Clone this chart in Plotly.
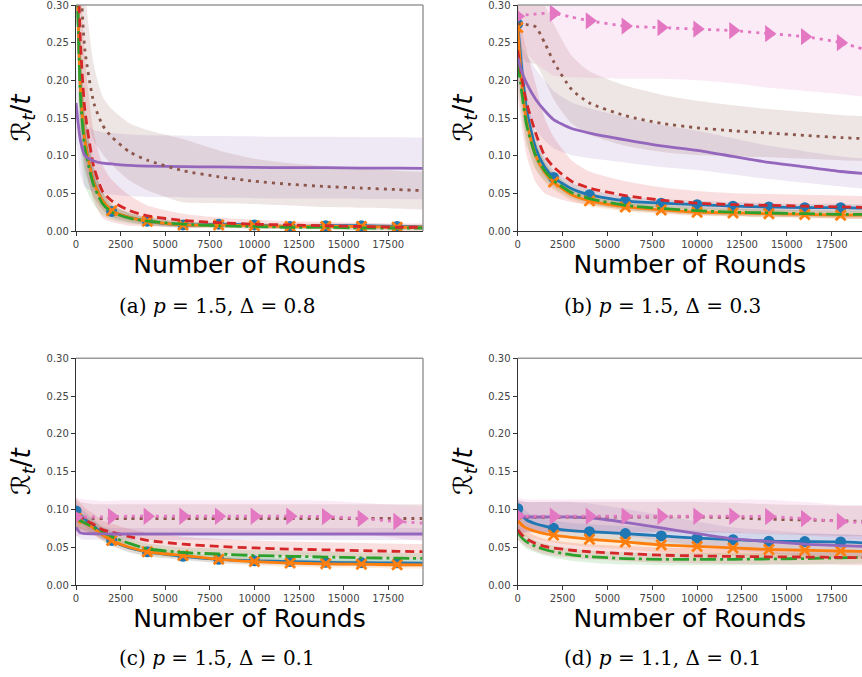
import plotly.graph_objects as go

# ---------------- data ----------------
ROUNDS = [0, 250, 500, 1000, 1500, 2000, 3000, 4000, 6000, 8000, 10000, 12000, 14000, 16000, 18000, 20000]
MARK_ROUNDS = [0, 2000, 4000, 6000, 8000, 10000, 12000, 14000, 16000, 18000]
X_TICKS = [0, 2500, 5000, 7500, 10000, 12500, 15000, 17500]
Y_TICKS = [0.0, 0.05, 0.10, 0.15, 0.20, 0.25, 0.30]
CAPTIONS = ["(a) <i>p</i> = 1.5, Δ = 0.8", "(b) <i>p</i> = 1.5, Δ = 0.3",
            "(c) <i>p</i> = 1.5, Δ = 0.1", "(d) <i>p</i> = 1.1, Δ = 0.1"]
X_LABEL = "Number of Rounds"
Y_LABEL = "ℛ<sub><i>t</i></sub>/<i>t</i>"

# panel (a)  p=1.5, Δ=0.8
A_BLUE = [0.40, 0.19, 0.12, 0.065, 0.040, 0.026, 0.018, 0.013, 0.008, 0.009, 0.008, 0.006, 0.007, 0.007, 0.006, 0.005]
A_ORANGE = [0.40, 0.19, 0.12, 0.064, 0.040, 0.027, 0.018, 0.013, 0.008, 0.008, 0.007, 0.006, 0.006, 0.006, 0.005, 0.005]
A_GREEN = [0.40, 0.18, 0.11, 0.060, 0.036, 0.025, 0.017, 0.013, 0.009, 0.007, 0.006, 0.005, 0.005, 0.004, 0.004, 0.004]
A_RED = [0.45, 0.25, 0.16, 0.085, 0.052, 0.040, 0.027, 0.020, 0.014, 0.011, 0.009, 0.008, 0.007, 0.006, 0.005, 0.005]
A_PURPLE = [0.17, 0.12, 0.10, 0.093, 0.090, 0.089, 0.087, 0.086, 0.0855, 0.085, 0.0845, 0.084, 0.084, 0.0835, 0.0835, 0.083]
A_BROWN = [0.55, 0.34, 0.24, 0.17, 0.14, 0.125, 0.105, 0.094, 0.080, 0.072, 0.066, 0.062, 0.059, 0.057, 0.055, 0.053]
A_BLUE_SD = [0.08, 0.06, 0.04, 0.02, 0.012, 0.008, 0.006, 0.005, 0.004, 0.003, 0.003, 0.003, 0.003, 0.003, 0.003, 0.003]
A_ORANGE_SD = [0.08, 0.06, 0.04, 0.02, 0.012, 0.008, 0.006, 0.005, 0.004, 0.003, 0.003, 0.003, 0.003, 0.003, 0.003, 0.003]
A_GREEN_SD = [0.10, 0.07, 0.05, 0.025, 0.015, 0.010, 0.007, 0.005, 0.004, 0.003, 0.003, 0.003, 0.003, 0.003, 0.003, 0.003]
A_RED_SD = [0.12, 0.10, 0.07, 0.045, 0.035, 0.028, 0.020, 0.014, 0.009, 0.007, 0.006, 0.005, 0.005, 0.005, 0.005, 0.005]
A_PURPLE_SD = [0.05, 0.045, 0.042, 0.041, 0.041, 0.041, 0.041, 0.041, 0.041, 0.041, 0.041, 0.041, 0.041, 0.041, 0.041, 0.041]
A_BROWN_SD = [0.15, 0.12, 0.08, 0.05, 0.038, 0.037, 0.038, 0.040, 0.042, 0.035, 0.030, 0.028, 0.027, 0.026, 0.025, 0.025]

# panel (b)  p=1.5, Δ=0.3
B_BLUE = [0.275, 0.21, 0.16, 0.11, 0.085, 0.071, 0.056, 0.048, 0.040, 0.037, 0.035, 0.033, 0.032, 0.031, 0.031, 0.030]
B_ORANGE = [0.27, 0.19, 0.145, 0.10, 0.078, 0.065, 0.048, 0.040, 0.032, 0.028, 0.025, 0.024, 0.023, 0.022, 0.021, 0.021]
B_GREEN = [0.225, 0.18, 0.14, 0.10, 0.080, 0.067, 0.051, 0.043, 0.034, 0.030, 0.027, 0.025, 0.024, 0.023, 0.022, 0.022]
B_RED = [0.24, 0.20, 0.17, 0.13, 0.10, 0.085, 0.066, 0.057, 0.047, 0.041, 0.037, 0.035, 0.034, 0.033, 0.032, 0.031]
B_PURPLE = [0.23, 0.21, 0.196, 0.175, 0.16, 0.148, 0.136, 0.130, 0.121, 0.113, 0.107, 0.099, 0.091, 0.085, 0.079, 0.075]
B_BROWN = [0.275, 0.275, 0.274, 0.271, 0.25, 0.225, 0.188, 0.170, 0.153, 0.143, 0.137, 0.133, 0.130, 0.127, 0.124, 0.122]
B_PINK = [0.285, 0.286, 0.287, 0.288, 0.289, 0.289, 0.284, 0.279, 0.272, 0.270, 0.268, 0.266, 0.262, 0.258, 0.250, 0.236]
B_BLUE_SD = [0.03, 0.03, 0.025, 0.018, 0.013, 0.01, 0.008, 0.007, 0.006, 0.005, 0.005, 0.005, 0.005, 0.005, 0.005, 0.005]
B_ORANGE_SD = [0.03, 0.03, 0.025, 0.018, 0.013, 0.01, 0.008, 0.007, 0.006, 0.005, 0.005, 0.005, 0.005, 0.005, 0.005, 0.005]
B_GREEN_SD = [0.03, 0.03, 0.025, 0.018, 0.013, 0.01, 0.008, 0.007, 0.006, 0.005, 0.005, 0.005, 0.005, 0.005, 0.005, 0.005]
B_RED_SD = [0.06, 0.065, 0.07, 0.065, 0.05, 0.04, 0.028, 0.022, 0.019, 0.017, 0.016, 0.015, 0.015, 0.015, 0.015, 0.015]
B_PURPLE_SD = [0.03, 0.035, 0.038, 0.04, 0.04, 0.038, 0.035, 0.033, 0.030, 0.028, 0.026, 0.024, 0.022, 0.021, 0.020, 0.020]
B_BROWN_SD = [0.04, 0.045, 0.05, 0.05, 0.05, 0.05, 0.045, 0.042, 0.040, 0.038, 0.036, 0.034, 0.032, 0.031, 0.030, 0.030]
B_PINK_SD = [0.035, 0.04, 0.05, 0.065, 0.075, 0.083, 0.08, 0.076, 0.07, 0.068, 0.068, 0.07, 0.072, 0.072, 0.068, 0.06]

# panel (c)  p=1.5, Δ=0.1
C_BLUE = [0.098, 0.092, 0.087, 0.078, 0.067, 0.059, 0.049, 0.044, 0.038, 0.034, 0.032, 0.031, 0.030, 0.0295, 0.0293, 0.029]
C_ORANGE = [0.088, 0.085, 0.082, 0.075, 0.066, 0.059, 0.050, 0.044, 0.039, 0.034, 0.031, 0.029, 0.028, 0.0275, 0.0268, 0.0265]
C_GREEN = [0.088, 0.085, 0.082, 0.076, 0.070, 0.064, 0.055, 0.048, 0.043, 0.041, 0.039, 0.038, 0.037, 0.036, 0.0355, 0.035]
C_RED = [0.095, 0.090, 0.086, 0.080, 0.073, 0.070, 0.064, 0.059, 0.054, 0.051, 0.049, 0.0475, 0.0465, 0.0455, 0.0445, 0.044]
C_PURPLE = [0.076, 0.069, 0.068, 0.0678, 0.0676, 0.0675, 0.0675, 0.0675, 0.0675, 0.0675, 0.0675, 0.0675, 0.0675, 0.0675, 0.0675, 0.0675]
C_BROWN = [0.092, 0.090, 0.089, 0.088, 0.088, 0.088, 0.088, 0.088, 0.088, 0.088, 0.088, 0.088, 0.088, 0.088, 0.088, 0.088]
C_PINK = [0.090, 0.090, 0.090, 0.090, 0.090, 0.0905, 0.091, 0.091, 0.091, 0.091, 0.091, 0.091, 0.0905, 0.088, 0.084, 0.081]
C_BLUE_SD = [0.012, 0.011, 0.01, 0.009, 0.008, 0.007, 0.006, 0.006, 0.005, 0.005, 0.005, 0.005, 0.005, 0.005, 0.005, 0.005]
C_ORANGE_SD = [0.012, 0.011, 0.01, 0.009, 0.008, 0.007, 0.006, 0.006, 0.005, 0.005, 0.005, 0.005, 0.005, 0.005, 0.005, 0.005]
C_GREEN_SD = [0.012, 0.011, 0.01, 0.009, 0.008, 0.008, 0.007, 0.007, 0.007, 0.007, 0.007, 0.007, 0.007, 0.007, 0.007, 0.007]
C_RED_SD = [0.02, 0.018, 0.016, 0.014, 0.012, 0.011, 0.01, 0.01, 0.01, 0.01, 0.01, 0.01, 0.01, 0.01, 0.01, 0.01]
C_PURPLE_SD = [0.01, 0.008, 0.008, 0.008, 0.008, 0.008, 0.008, 0.008, 0.008, 0.008, 0.008, 0.008, 0.008, 0.008, 0.008, 0.008]
C_BROWN_SD = [0.022, 0.02, 0.02, 0.019, 0.019, 0.019, 0.019, 0.019, 0.019, 0.019, 0.019, 0.019, 0.019, 0.019, 0.019, 0.019]
C_PINK_SD = [0.026, 0.024, 0.023, 0.022, 0.021, 0.021, 0.021, 0.021, 0.021, 0.021, 0.021, 0.021, 0.021, 0.021, 0.022, 0.024]

# panel (d)  p=1.1, Δ=0.1
D_BLUE = [0.101, 0.092, 0.086, 0.081, 0.078, 0.075, 0.072, 0.0705, 0.068, 0.065, 0.062, 0.060, 0.058, 0.0575, 0.057, 0.055]
D_ORANGE = [0.085, 0.079, 0.075, 0.071, 0.068, 0.066, 0.063, 0.0605, 0.057, 0.053, 0.051, 0.049, 0.047, 0.046, 0.045, 0.044]
D_GREEN = [0.070, 0.062, 0.057, 0.051, 0.047, 0.044, 0.040, 0.0375, 0.035, 0.034, 0.034, 0.034, 0.0345, 0.035, 0.036, 0.037]
D_RED = [0.073, 0.066, 0.061, 0.055, 0.051, 0.049, 0.046, 0.044, 0.0415, 0.0395, 0.0385, 0.0378, 0.0373, 0.037, 0.0365, 0.036]
D_PURPLE = [0.091, 0.090, 0.090, 0.090, 0.090, 0.090, 0.090, 0.089, 0.083, 0.0755, 0.068, 0.061, 0.0575, 0.054, 0.052, 0.0505]
D_BROWN = [0.090, 0.090, 0.090, 0.090, 0.090, 0.090, 0.090, 0.090, 0.090, 0.090, 0.090, 0.089, 0.087, 0.086, 0.085, 0.084]
D_PINK = [0.092, 0.091, 0.091, 0.091, 0.091, 0.091, 0.091, 0.091, 0.091, 0.091, 0.091, 0.091, 0.0905, 0.088, 0.084, 0.082]
D_BLUE_SD = [0.014, 0.012, 0.011, 0.01, 0.01, 0.01, 0.01, 0.01, 0.01, 0.01, 0.01, 0.01, 0.01, 0.01, 0.01, 0.01]
D_ORANGE_SD = [0.014, 0.012, 0.011, 0.01, 0.01, 0.01, 0.01, 0.01, 0.01, 0.01, 0.01, 0.01, 0.01, 0.01, 0.01, 0.01]
D_GREEN_SD = [0.01, 0.009, 0.009, 0.008, 0.008, 0.008, 0.008, 0.008, 0.008, 0.008, 0.008, 0.008, 0.008, 0.008, 0.008, 0.008]
D_RED_SD = [0.012, 0.011, 0.01, 0.01, 0.01, 0.01, 0.01, 0.01, 0.01, 0.01, 0.01, 0.01, 0.01, 0.01, 0.01, 0.01]
D_PURPLE_SD = [0.02, 0.02, 0.02, 0.02, 0.02, 0.02, 0.02, 0.019, 0.018, 0.017, 0.016, 0.015, 0.015, 0.015, 0.015, 0.015]
D_BROWN_SD = [0.022, 0.021, 0.02, 0.02, 0.02, 0.02, 0.02, 0.02, 0.02, 0.02, 0.02, 0.02, 0.02, 0.02, 0.02, 0.02]
D_PINK_SD = [0.024, 0.023, 0.022, 0.022, 0.022, 0.022, 0.022, 0.022, 0.022, 0.022, 0.022, 0.022, 0.022, 0.022, 0.022, 0.024]

# ---------------- styles ----------------
STYLE = {
    "blue":   dict(color="#1f77b4", rgb="31,119,180", dash="solid", marker="circle"),
    "orange": dict(color="#ff7f0e", rgb="255,127,14", dash="solid", marker="x-thin"),
    "green":  dict(color="#2ca02c", rgb="44,160,44", dash="16px,4px,3px,4px", marker=None),
    "red":    dict(color="#d62728", rgb="214,39,40", dash="9px,5px", marker=None),
    "purple": dict(color="#9467bd", rgb="148,103,189", dash="solid", marker=None),
    "brown":  dict(color="#8c564b", rgb="140,86,75", dash="3px,5px", marker=None),
    "pink":   dict(color="#e377c2", rgb="227,119,194", dash="3px,5px", marker="triangle-right"),
}
ORDER = ["blue", "orange", "green", "red", "purple", "brown", "pink"]

PANELS = [
    {"blue": (A_BLUE, A_BLUE_SD), "orange": (A_ORANGE, A_ORANGE_SD), "green": (A_GREEN, A_GREEN_SD),
     "red": (A_RED, A_RED_SD), "purple": (A_PURPLE, A_PURPLE_SD), "brown": (A_BROWN, A_BROWN_SD)},
    {"blue": (B_BLUE, B_BLUE_SD), "orange": (B_ORANGE, B_ORANGE_SD), "green": (B_GREEN, B_GREEN_SD),
     "red": (B_RED, B_RED_SD), "purple": (B_PURPLE, B_PURPLE_SD), "brown": (B_BROWN, B_BROWN_SD),
     "pink": (B_PINK, B_PINK_SD)},
    {"blue": (C_BLUE, C_BLUE_SD), "orange": (C_ORANGE, C_ORANGE_SD), "green": (C_GREEN, C_GREEN_SD),
     "red": (C_RED, C_RED_SD), "purple": (C_PURPLE, C_PURPLE_SD), "brown": (C_BROWN, C_BROWN_SD),
     "pink": (C_PINK, C_PINK_SD)},
    {"blue": (D_BLUE, D_BLUE_SD), "orange": (D_ORANGE, D_ORANGE_SD), "green": (D_GREEN, D_GREEN_SD),
     "red": (D_RED, D_RED_SD), "purple": (D_PURPLE, D_PURPLE_SD), "brown": (D_BROWN, D_BROWN_SD),
     "pink": (D_PINK, D_PINK_SD)},
]

W, H = 862, 677
# plot-area pixel boxes: (left, right, top, bottom) and x range end
BOXES = [(76, 423, 5, 231, 19450), (517.7, 862, 5, 231, 19190),
         (76, 423, 358.3, 585, 19450), (517.7, 862, 358.3, 585, 19190)]
CAP_POS = [(217, 306), (662, 306), (217, 658), (662, 658)]

fig = go.Figure()
mark_idx = [ROUNDS.index(m) for m in MARK_ROUNDS]

for p, panel in enumerate(PANELS):
    xa = "x" if p == 0 else f"x{p+1}"
    ya = "y" if p == 0 else f"y{p+1}"
    for name in ORDER:
        if name not in panel:
            continue
        mean, sd = panel[name]
        st = STYLE[name]
        lo = [m - s for m, s in zip(mean, sd)]
        hi = [m + s for m, s in zip(mean, sd)]
        fig.add_trace(go.Scatter(x=ROUNDS, y=lo, xaxis=xa, yaxis=ya, mode="lines",
                                 line=dict(width=0, shape="spline", smoothing=0.6),
                                 showlegend=False, hoverinfo="skip"))
        fig.add_trace(go.Scatter(x=ROUNDS, y=hi, xaxis=xa, yaxis=ya, mode="lines", fill="tonexty",
                                 fillcolor=f"rgba({st['rgb']},0.15)",
                                 line=dict(width=0, shape="spline", smoothing=0.6),
                                 showlegend=False, hoverinfo="skip"))
    for name in ORDER:
        if name not in panel:
            continue
        mean, sd = panel[name]
        st = STYLE[name]
        fig.add_trace(go.Scatter(x=ROUNDS, y=mean, xaxis=xa, yaxis=ya, mode="lines",
                                 line=dict(color=st["color"], width=2.8, dash=st["dash"],
                                           shape="spline", smoothing=0.6),
                                 showlegend=False, hoverinfo="skip"))
        if st["marker"]:
            mx = [ROUNDS[i] for i in mark_idx]
            my = [mean[i] for i in mark_idx]
            if st["marker"] == "x-thin":
                mk = dict(symbol="x-thin", size=10, line=dict(color=st["color"], width=2.8))
            elif st["marker"] == "circle":
                mk = dict(symbol="circle", size=11, color=st["color"], line=dict(width=0))
            else:
                mk = dict(symbol="triangle-right", size=15, color=st["color"], line=dict(width=0))
            fig.add_trace(go.Scatter(x=mx, y=my, xaxis=xa, yaxis=ya, mode="markers",
                                     marker=mk, cliponaxis=True,
                                     showlegend=False, hoverinfo="skip"))

layout = dict(width=W, height=H, margin=dict(l=0, r=0, t=0, b=0),
              paper_bgcolor="white", plot_bgcolor="white", showlegend=False,
              font=dict(family="DejaVu Sans", color="#000"))
shapes = []
annotations = []
for p, (l, r, t, b, xmax) in enumerate(BOXES):
    sfx = "" if p == 0 else str(p + 1)
    ax_x = dict(domain=[l / W, r / W], range=[0, xmax], anchor="y" + sfx,
                tickvals=X_TICKS, ticktext=[str(v) for v in X_TICKS],
                ticks="outside", ticklen=4, tickwidth=1, tickcolor="#333",
                tickfont=dict(size=10, color="#444"), ticklabeloverflow="allow",
                showline=True, linecolor="#333", linewidth=1.2, showgrid=False, zeroline=False,
                title=dict(text=X_LABEL, font=dict(size=25, color="#000"), standoff=3),
                automargin=False, fixedrange=True)
    ax_y = dict(domain=[1 - b / H, 1 - t / H], range=[0, 0.30], anchor="x" + sfx,
                tickvals=Y_TICKS, ticktext=[f"{v:.2f}" for v in Y_TICKS],
                ticks="outside", ticklen=4, tickwidth=1, tickcolor="#333",
                tickfont=dict(size=10, color="#444"), ticklabeloverflow="allow",
                showline=True, linecolor="#333", linewidth=1.2, showgrid=False, zeroline=False,
                title=dict(text=Y_LABEL, font=dict(size=26, color="#000"), standoff=8),
                automargin=False, fixedrange=True)
    layout["xaxis" + sfx] = ax_x
    layout["yaxis" + sfx] = ax_y
    shapes.append(dict(type="line", xref=f"x{sfx} domain", yref=f"y{sfx} domain",
                       x0=0, x1=1, y0=1, y1=1, line=dict(color="#9a9a9a", width=1.5)))
    if r < W:
        shapes.append(dict(type="line", xref=f"x{sfx} domain", yref=f"y{sfx} domain",
                           x0=1, x1=1, y0=0, y1=1, line=dict(color="#9a9a9a", width=1.5)))
    cx, cy = CAP_POS[p]
    annotations.append(dict(text=CAPTIONS[p], x=cx / W, y=1 - cy / H, xref="paper", yref="paper",
                            showarrow=False, xanchor="center", yanchor="middle",
                            font=dict(family="DejaVu Serif", size=20, color="#000")))
layout["shapes"] = shapes
layout["annotations"] = annotations
fig.update_layout(**layout)
fig.write_html("out.html", config={"displayModeBar": False, "staticPlot": True},
               post_script="document.body.style.margin='0px';document.body.style.overflow='hidden';")
